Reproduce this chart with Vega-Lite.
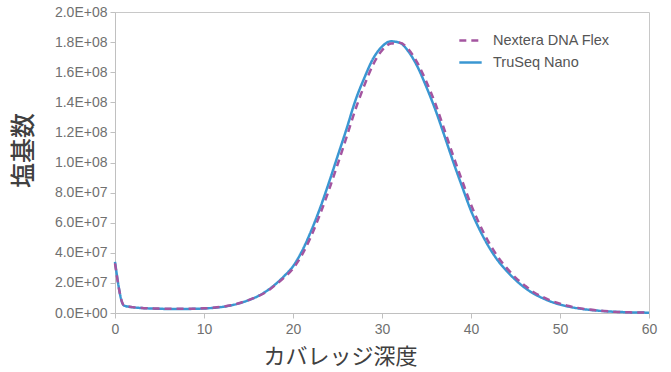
{
  "$schema": "https://vega.github.io/schema/vega-lite/v6.json",
  "width": 534,
  "height": 301,
  "autosize": {"type": "none"},
  "padding": {"left": 115, "top": 12, "right": 22, "bottom": 59},
  "background": "white",
  "config": {
    "view": {"stroke": "#c8c8c8", "strokeWidth": 1},
    "axis": {"labelFont": "Liberation Sans", "labelColor": "#707070", "labelFontSize": 14, "domainColor": "#c0c0c0", "tickColor": "#c0c0c0", "grid": false, "titleFont": "Noto Sans CJK JP", "titleColor": "#404040", "titleFontWeight": "normal"},
    "legend": {"labelFont": "Liberation Sans", "labelColor": "#555555", "labelFontSize": 14.5}
  },
  "data": {"values": [
    {"depth":0,"series":"TruSeq Nano","bases":34000000},{"depth":1,"series":"TruSeq Nano","bases":5000000},{"depth":2,"series":"TruSeq Nano","bases":3800000},{"depth":3,"series":"TruSeq Nano","bases":3300000},{"depth":4,"series":"TruSeq Nano","bases":3000000},{"depth":5,"series":"TruSeq Nano","bases":2800000},{"depth":6,"series":"TruSeq Nano","bases":2700000},{"depth":7,"series":"TruSeq Nano","bases":2700000},{"depth":8,"series":"TruSeq Nano","bases":2700000},{"depth":9,"series":"TruSeq Nano","bases":2800000},{"depth":10,"series":"TruSeq Nano","bases":3000000},{"depth":11,"series":"TruSeq Nano","bases":3400000},{"depth":12,"series":"TruSeq Nano","bases":4000000},{"depth":13,"series":"TruSeq Nano","bases":5000000},{"depth":14,"series":"TruSeq Nano","bases":6500000},{"depth":15,"series":"TruSeq Nano","bases":8500000},{"depth":16,"series":"TruSeq Nano","bases":11000000},{"depth":17,"series":"TruSeq Nano","bases":14500000},{"depth":18,"series":"TruSeq Nano","bases":19000000},{"depth":19,"series":"TruSeq Nano","bases":24500000},{"depth":20,"series":"TruSeq Nano","bases":31000000},{"depth":21,"series":"TruSeq Nano","bases":41000000},{"depth":22,"series":"TruSeq Nano","bases":54000000},{"depth":23,"series":"TruSeq Nano","bases":69000000},{"depth":24,"series":"TruSeq Nano","bases":86000000},{"depth":25,"series":"TruSeq Nano","bases":104000000},{"depth":26,"series":"TruSeq Nano","bases":122000000},{"depth":27,"series":"TruSeq Nano","bases":141000000},{"depth":28,"series":"TruSeq Nano","bases":156000000},{"depth":29,"series":"TruSeq Nano","bases":169000000},{"depth":30,"series":"TruSeq Nano","bases":177000000},{"depth":31,"series":"TruSeq Nano","bases":180500000},{"depth":32,"series":"TruSeq Nano","bases":179500000},{"depth":33,"series":"TruSeq Nano","bases":173500000},{"depth":34,"series":"TruSeq Nano","bases":163500000},{"depth":35,"series":"TruSeq Nano","bases":150000000},{"depth":36,"series":"TruSeq Nano","bases":135000000},{"depth":37,"series":"TruSeq Nano","bases":118000000},{"depth":38,"series":"TruSeq Nano","bases":100500000},{"depth":39,"series":"TruSeq Nano","bases":84000000},{"depth":40,"series":"TruSeq Nano","bases":68000000},{"depth":41,"series":"TruSeq Nano","bases":55000000},{"depth":42,"series":"TruSeq Nano","bases":44000000},{"depth":43,"series":"TruSeq Nano","bases":35000000},{"depth":44,"series":"TruSeq Nano","bases":28000000},{"depth":45,"series":"TruSeq Nano","bases":22000000},{"depth":46,"series":"TruSeq Nano","bases":17000000},{"depth":47,"series":"TruSeq Nano","bases":13000000},{"depth":48,"series":"TruSeq Nano","bases":10000000},{"depth":49,"series":"TruSeq Nano","bases":7500000},{"depth":50,"series":"TruSeq Nano","bases":5600000},{"depth":51,"series":"TruSeq Nano","bases":4200000},{"depth":52,"series":"TruSeq Nano","bases":3100000},{"depth":53,"series":"TruSeq Nano","bases":2300000},{"depth":54,"series":"TruSeq Nano","bases":1700000},{"depth":55,"series":"TruSeq Nano","bases":1200000},{"depth":56,"series":"TruSeq Nano","bases":850000},{"depth":57,"series":"TruSeq Nano","bases":600000},{"depth":58,"series":"TruSeq Nano","bases":400000},{"depth":59,"series":"TruSeq Nano","bases":300000},{"depth":60,"series":"TruSeq Nano","bases":200000},
    {"depth":0,"series":"Nextera DNA Flex","bases":33000000},{"depth":1,"series":"Nextera DNA Flex","bases":5200000},{"depth":2,"series":"Nextera DNA Flex","bases":3900000},{"depth":3,"series":"Nextera DNA Flex","bases":3400000},{"depth":4,"series":"Nextera DNA Flex","bases":3100000},{"depth":5,"series":"Nextera DNA Flex","bases":2900000},{"depth":6,"series":"Nextera DNA Flex","bases":2800000},{"depth":7,"series":"Nextera DNA Flex","bases":2800000},{"depth":8,"series":"Nextera DNA Flex","bases":2800000},{"depth":9,"series":"Nextera DNA Flex","bases":2900000},{"depth":10,"series":"Nextera DNA Flex","bases":3100000},{"depth":11,"series":"Nextera DNA Flex","bases":3500000},{"depth":12,"series":"Nextera DNA Flex","bases":4100000},{"depth":13,"series":"Nextera DNA Flex","bases":5100000},{"depth":14,"series":"Nextera DNA Flex","bases":6600000},{"depth":15,"series":"Nextera DNA Flex","bases":8600000},{"depth":16,"series":"Nextera DNA Flex","bases":11000000},{"depth":17,"series":"Nextera DNA Flex","bases":14000000},{"depth":18,"series":"Nextera DNA Flex","bases":18500000},{"depth":19,"series":"Nextera DNA Flex","bases":23500000},{"depth":20,"series":"Nextera DNA Flex","bases":29500000},{"depth":21,"series":"Nextera DNA Flex","bases":38500000},{"depth":22,"series":"Nextera DNA Flex","bases":50500000},{"depth":23,"series":"Nextera DNA Flex","bases":65000000},{"depth":24,"series":"Nextera DNA Flex","bases":81000000},{"depth":25,"series":"Nextera DNA Flex","bases":98500000},{"depth":26,"series":"Nextera DNA Flex","bases":116500000},{"depth":27,"series":"Nextera DNA Flex","bases":135000000},{"depth":28,"series":"Nextera DNA Flex","bases":151000000},{"depth":29,"series":"Nextera DNA Flex","bases":165000000},{"depth":30,"series":"Nextera DNA Flex","bases":174500000},{"depth":31,"series":"Nextera DNA Flex","bases":179000000},{"depth":32,"series":"Nextera DNA Flex","bases":179500000},{"depth":33,"series":"Nextera DNA Flex","bases":175000000},{"depth":34,"series":"Nextera DNA Flex","bases":166000000},{"depth":35,"series":"Nextera DNA Flex","bases":153500000},{"depth":36,"series":"Nextera DNA Flex","bases":139000000},{"depth":37,"series":"Nextera DNA Flex","bases":122000000},{"depth":38,"series":"Nextera DNA Flex","bases":104500000},{"depth":39,"series":"Nextera DNA Flex","bases":88000000},{"depth":40,"series":"Nextera DNA Flex","bases":72000000},{"depth":41,"series":"Nextera DNA Flex","bases":58500000},{"depth":42,"series":"Nextera DNA Flex","bases":47000000},{"depth":43,"series":"Nextera DNA Flex","bases":37500000},{"depth":44,"series":"Nextera DNA Flex","bases":30000000},{"depth":45,"series":"Nextera DNA Flex","bases":23500000},{"depth":46,"series":"Nextera DNA Flex","bases":18500000},{"depth":47,"series":"Nextera DNA Flex","bases":14000000},{"depth":48,"series":"Nextera DNA Flex","bases":10800000},{"depth":49,"series":"Nextera DNA Flex","bases":8200000},{"depth":50,"series":"Nextera DNA Flex","bases":6200000},{"depth":51,"series":"Nextera DNA Flex","bases":4600000},{"depth":52,"series":"Nextera DNA Flex","bases":3400000},{"depth":53,"series":"Nextera DNA Flex","bases":2500000},{"depth":54,"series":"Nextera DNA Flex","bases":1800000},{"depth":55,"series":"Nextera DNA Flex","bases":1300000},{"depth":56,"series":"Nextera DNA Flex","bases":900000},{"depth":57,"series":"Nextera DNA Flex","bases":600000},{"depth":58,"series":"Nextera DNA Flex","bases":400000},{"depth":59,"series":"Nextera DNA Flex","bases":300000},{"depth":60,"series":"Nextera DNA Flex","bases":200000}
  ]},
  "mark": {"type": "line", "strokeWidth": 2.5, "interpolate": "monotone"},
  "encoding": {
    "x": {"field": "depth", "type": "quantitative", "scale": {"domain": [0, 60], "nice": false},
      "axis": {"values": [0,10,20,30,40,50,60], "title": "カバレッジ深度", "titleFontSize": 22, "titleX": 225, "titleY": 43, "titleAlign": "center", "titleBaseline": "middle", "tickSize": 5, "labelPadding": 4, "labelFlush": false, "labelOverlap": false}},
    "y": {"field": "bases", "type": "quantitative", "scale": {"domain": [0, 200000000], "nice": false},
      "axis": {"values": [0,20000000,40000000,60000000,80000000,100000000,120000000,140000000,160000000,180000000,200000000],
        "labelExpr": "replace(format(datum.value, '.1e'), 'e+', 'E+0')",
        "title": "塩基数", "titleFontSize": 25, "titleX": -92, "titleY": 138, "titleAlign": "center", "titleBaseline": "middle", "titleAngle": -90, "titleFontWeight": 500,
        "tickSize": 5, "labelPadding": 3, "labelOverlap": false}},
    "color": {"field": "series", "type": "nominal",
      "scale": {"domain": ["Nextera DNA Flex", "TruSeq Nano"], "range": ["#a455a0", "#3a97d2"]},
      "legend": {"title": null, "orient": "none", "legendX": 343, "legendY": 16, "symbolType": "stroke", "symbolSize": 500, "symbolStrokeWidth": 2.5, "rowPadding": 3, "labelOffset": 10}},
    "strokeDash": {"field": "series", "type": "nominal",
      "scale": {"domain": ["Nextera DNA Flex", "TruSeq Nano"], "range": [[7, 5], [1, 0]]},
      "legend": {"title": null, "orient": "none", "legendX": 343, "legendY": 16, "symbolType": "stroke", "symbolSize": 500, "symbolStrokeWidth": 2.5, "rowPadding": 3, "labelOffset": 10}},
    "order": {"field": "depth", "type": "quantitative"}
  }
}
